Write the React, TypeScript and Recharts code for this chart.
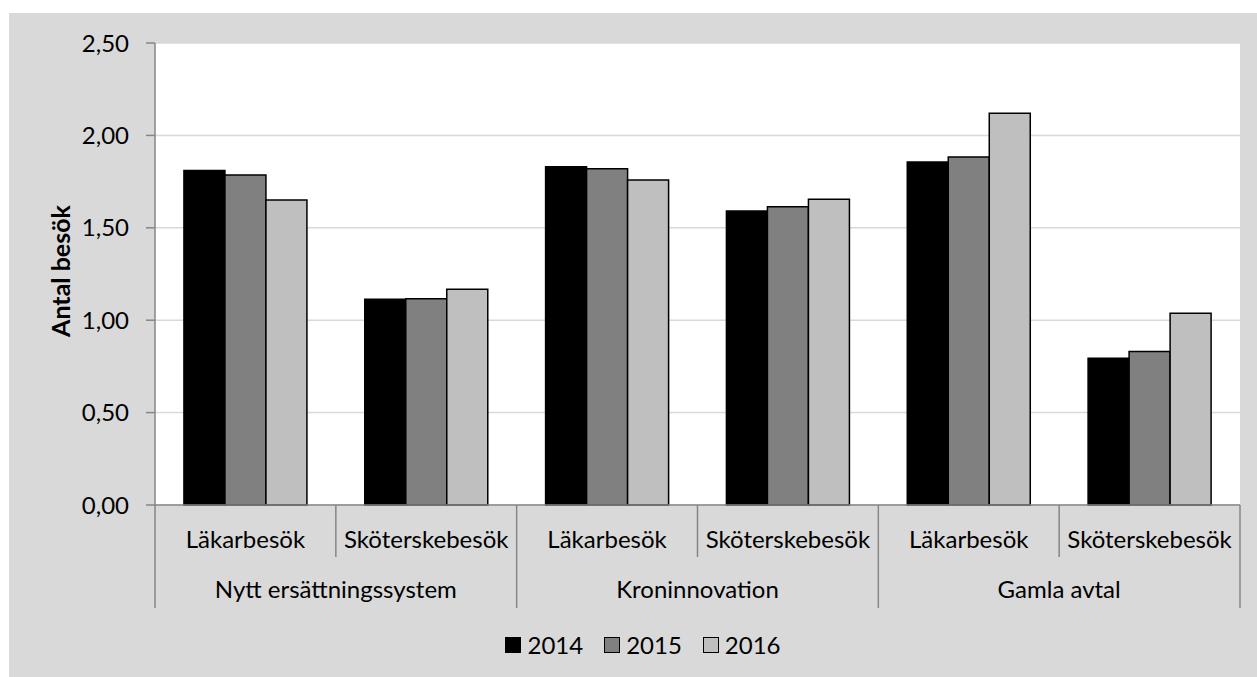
import { Bar, BarChart, CartesianGrid, Legend, XAxis, YAxis } from 'recharts'

const groups = ['Nytt ersättningssystem', 'Kroninnovation', 'Gamla avtal']
const subCategories = ['Läkarbesök', 'Sköterskebesök']
const years = ['2014', '2015', '2016']

const values2014 = [1.81, 1.113, 1.831, 1.591, 1.856, 0.794]
const values2015 = [1.786, 1.116, 1.82, 1.614, 1.883, 0.83]
const values2016 = [1.65, 1.167, 1.759, 1.654, 2.12, 1.037]

const yTicks = [0, 0.5, 1, 1.5, 2, 2.5]

const data = values2014.map((v, i) => ({
  sub: subCategories[i % 2],
  group: groups[Math.floor(i / 2)],
  y2014: v,
  y2015: values2015[i],
  y2016: values2016[i],
}))

const W = 1248
const H = 664
const PLOT_LEFT = 146
const PLOT_RIGHT = 1231
const PLOT_BOTTOM = 492
const BAND = (PLOT_RIGHT - PLOT_LEFT) / data.length

const FONT = 'Lato, "Noto Sans", sans-serif'
const AXIS_GRAY = '#868686'
const colors = ['#000000', '#808080', '#bfbfbf']

function CategoryTick(props: any) {
  const { x, index } = props
  const row = data[index]
  const left = x - BAND / 2
  const right = x + BAND / 2
  const isGroupStart = index % 2 === 0
  const isLast = index === data.length - 1
  return (
    <g>
      <line
        x1={left}
        x2={left}
        y1={PLOT_BOTTOM}
        y2={PLOT_BOTTOM + (isGroupStart ? 103 : 52)}
        stroke={AXIS_GRAY}
        strokeWidth={1.5}
      />
      {isLast && (
        <line
          x1={right}
          x2={right}
          y1={PLOT_BOTTOM}
          y2={PLOT_BOTTOM + 103}
          stroke={AXIS_GRAY}
          strokeWidth={1.5}
        />
      )}
      <text
        x={x}
        y={PLOT_BOTTOM + 43}
        textAnchor="middle"
        fontFamily={FONT}
        fontSize={24}
        fill="#000"
      >
        {row.sub}
      </text>
      {isGroupStart && (
        <text
          x={right}
          y={PLOT_BOTTOM + 93}
          textAnchor="middle"
          fontFamily={FONT}
          fontSize={24}
          fill="#000"
        >
          {row.group}
        </text>
      )}
    </g>
  )
}

function YTitle() {
  const cy = 258
  const cx = 51
  return (
    <text
      x={cx}
      y={cy}
      transform={`rotate(-90 ${cx} ${cy})`}
      textAnchor="middle"
      dominantBaseline="central"
      fontFamily={FONT}
      fontSize={25}
      fontWeight="bold"
      fill="#000"
    >
      Antal besök
    </text>
  )
}

function YearLegend() {
  return (
    <div
      style={{
        display: 'flex',
        justifyContent: 'center',
        gap: 21,
        paddingLeft: 20,
        fontFamily: FONT,
        fontSize: 24,
        lineHeight: '28px',
        color: '#000',
      }}
    >
      {years.map((year, i) => (
        <span key={year} style={{ display: 'flex', alignItems: 'center', gap: 6 }}>
          <span
            style={{
              display: 'inline-block',
              width: 14,
              height: 14,
              background: colors[i],
              border: '1.5px solid #000',
            }}
          />
          {year}
        </span>
      ))}
    </div>
  )
}

export default function App() {
  return (
    <div
      style={{
        position: 'absolute',
        left: 9,
        top: 13,
        width: W,
        height: H,
        background: '#d9d9d9',
      }}
    >
      <BarChart
        width={W}
        height={H}
        data={data}
        margin={{ top: 30, right: W - PLOT_RIGHT, bottom: 52, left: 0 }}
        barCategoryGap="16%"
        barGap={0}
      >
        <CartesianGrid vertical={false} stroke="#d9d9d9" strokeWidth={1.5} fill="#ffffff" />
        <XAxis
          dataKey="sub"
          height={120}
          axisLine={{ stroke: AXIS_GRAY, strokeWidth: 1.5 }}
          tickLine={false}
          interval={0}
          tick={<CategoryTick />}
        />
        <YAxis
          width={PLOT_LEFT}
          domain={[0, 2.5]}
          ticks={yTicks}
          interval={0}
          tickFormatter={(v: number) => v.toFixed(2).replace('.', ',')}
          axisLine={{ stroke: AXIS_GRAY, strokeWidth: 1.5 }}
          tickLine={{ stroke: AXIS_GRAY, strokeWidth: 1.5 }}
          tickSize={9}
          tickMargin={17}
          tick={{ fontFamily: FONT, fontSize: 24, fill: '#000' }}
          label={<YTitle />}
        />
        <Legend
          layout="horizontal"
          verticalAlign="middle"
          align="center"
          content={<YearLegend />}
          wrapperStyle={{ top: 618, left: 0, width: W }}
        />
        <Bar dataKey="y2014" name="2014" fill={colors[0]} stroke="#000" strokeWidth={1.5} isAnimationActive={false} />
        <Bar dataKey="y2015" name="2015" fill={colors[1]} stroke="#000" strokeWidth={1.5} isAnimationActive={false} />
        <Bar dataKey="y2016" name="2016" fill={colors[2]} stroke="#000" strokeWidth={1.5} isAnimationActive={false} />
      </BarChart>
    </div>
  )
}
